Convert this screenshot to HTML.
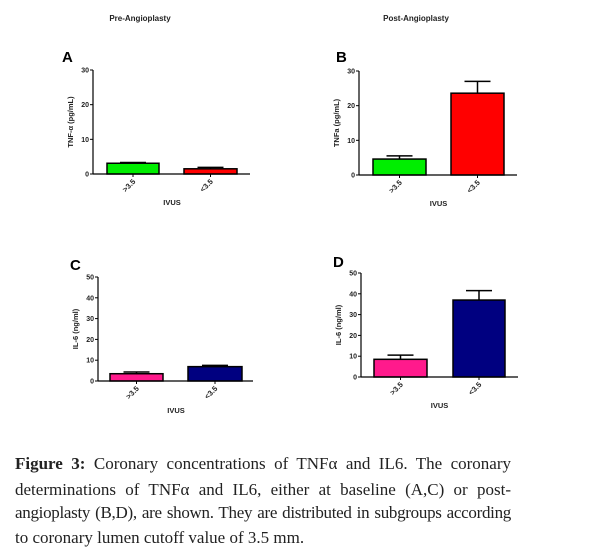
<!DOCTYPE html>
<html><head><meta charset="utf-8"><style>
body{margin:0;background:#fff;width:602px;height:549px;overflow:hidden;position:relative}
svg{position:absolute;left:0;top:0}
.cap{position:absolute;left:15px;width:496px;font-family:"Liberation Serif",serif;font-size:17px;color:#222;white-space:nowrap;line-height:20px}
.j{text-align:justify;text-align-last:justify}
</style></head><body>
<svg id="chart" width="602" height="440" font-family="Liberation Sans, sans-serif"></svg>
<div class="cap j" style="top:454px"><b>Figure 3:</b> Coronary concentrations of TNFα and IL6. The coronary</div>
<div class="cap j" style="top:480px">determinations of TNFα and IL6, either at baseline (A,C) or post-</div>
<div class="cap j" style="top:503px;letter-spacing:-0.3px">angioplasty (B,D), are shown. They are distributed in subgroups according</div>
<div class="cap" style="top:528px">to coronary lumen cutoff value of 3.5 mm.</div>
<script>
const categories = [">3.5", "<3.5"];
const panelLetters = ["A", "B", "C", "D"];
const yTitles = ["TNF-α (pg/mL)", "TNFa (pg/mL)", "IL-6 (ng/ml)", "IL-6 (ng/ml)"];
const yMaxes = [30, 30, 50, 50];
const tickStep = [10, 10, 10, 10];
const meansA = [3.1, 1.5];
const errA = [3.3, 1.9];
const meansB = [4.6, 23.6];
const errB = [5.5, 27];
const meansC = [3.5, 6.9];
const errC = [4.3, 7.5];
const meansD = [8.5, 37];
const errD = [10.5, 41.5];
const NS = "http://www.w3.org/2000/svg";
const svg = document.getElementById("chart");
function mk(tag, attrs, parent, text){
  const e = document.createElementNS(NS, tag);
  for (const k in attrs) e.setAttribute(k, attrs[k]);
  if (text !== undefined) e.textContent = text;
  (parent || svg).appendChild(e);
  return e;
}
const layouts = [
  {ax:93, y0:174, yTop:70, xEnd:250, bars:[[107,159],[184,237]], colors:["#00ee00","#ff0000"], letter:[62,62], ivusY:205},
  {ax:359, y0:175, yTop:71, xEnd:517, bars:[[373,426],[451,504]], colors:["#00ee00","#ff0000"], letter:[336,62], ivusY:206},
  {ax:98, y0:381, yTop:277, xEnd:253, bars:[[110,163],[188,242]], colors:["#ff1a8c","#000080"], letter:[70,270], ivusY:413},
  {ax:361, y0:377, yTop:273, xEnd:518, bars:[[374,427],[453,505]], colors:["#ff1a8c","#000080"], letter:[333,267], ivusY:408}
];
const means = [meansA, meansB, meansC, meansD];
const errs = [errA, errB, errC, errD];
const t1 = mk("text", {x:140, y:21, "font-size":8, "font-weight":"bold", "text-anchor":"middle", fill:"#222"}, svg, "Pre-Angioplasty");


const t2 = mk("text", {x:416, y:21, "font-size":8, "font-weight":"bold", "text-anchor":"middle", fill:"#222"}, svg, "Post-Angioplasty");


layouts.forEach((L, p) => {
  const g = mk("g", {});
  
  
  const yScale = v => L.y0 - (v / yMaxes[p]) * (L.y0 - L.yTop);
  const lt = mk("text", {x:L.letter[0], y:L.letter[1], "font-size":15, "font-weight":"bold"}, g, panelLetters[p]);
  
  
  categories.forEach((c, i) => {
    const [x1, x2] = L.bars[i];
    const xm = (x1 + x2) / 2;
    const eb = mk("g", {stroke:"#000", "stroke-width":1.5}, g);
    
    
    mk("line", {x1:xm, x2:xm, y1:yScale(means[p][i]), y2:yScale(errs[p][i])}, eb);
    mk("line", {x1:xm - 13, x2:xm + 13, y1:yScale(errs[p][i]), y2:yScale(errs[p][i])}, eb);
    const r = mk("rect", {x:x1, y:yScale(means[p][i]), width:x2 - x1, height:L.y0 - yScale(means[p][i]), fill:L.colors[i], stroke:"#000", "stroke-width":1.5}, g);
    
    
    mk("line", {x1:xm, x2:xm, y1:L.y0, y2:L.y0 + 3, stroke:"#000", "stroke-width":1}, g);
    const tl = mk("text", {x:0, y:0, "font-size":7.5, "font-weight":"bold", "text-anchor":"end", fill:"#222", transform:`translate(${xm + 3},${L.y0 + 8}) rotate(-45)`}, g, c);
    
    
  });
  const ya = mk("line", {x1:L.ax, x2:L.ax, y1:L.yTop, y2:L.y0, stroke:"#000", "stroke-width":1.2}, g);
  
  
  const xa = mk("line", {x1:L.ax, x2:L.xEnd, y1:L.y0, y2:L.y0, stroke:"#000", "stroke-width":1.2}, g);
  
  
  for (let v = 0; v <= yMaxes[p]; v += tickStep[p]) {
    mk("line", {x1:L.ax - 3, x2:L.ax, y1:yScale(v), y2:yScale(v), stroke:"#000", "stroke-width":1}, g);
    const tk = mk("text", {x:L.ax - 4, y:yScale(v) + 2.5, "font-size":7, "font-weight":"bold", "text-anchor":"end", fill:"#222"}, g, String(v));
    
    
  }
  const ymid = (L.y0 + L.yTop) / 2;
  const yt = mk("text", {x:0, y:0, "font-size":7.5, "font-weight":"bold", "text-anchor":"middle", fill:"#222", transform:`translate(${L.ax - 20},${ymid}) rotate(-90)`}, g, yTitles[p]);
  
  
  const xt = mk("text", {x:(L.bars[0][0] + L.bars[1][1]) / 2, y:L.ivusY, "font-size":7.5, "font-weight":"bold", "text-anchor":"middle", fill:"#222"}, g, "IVUS");
  
  
});
</script>
</body></html>
